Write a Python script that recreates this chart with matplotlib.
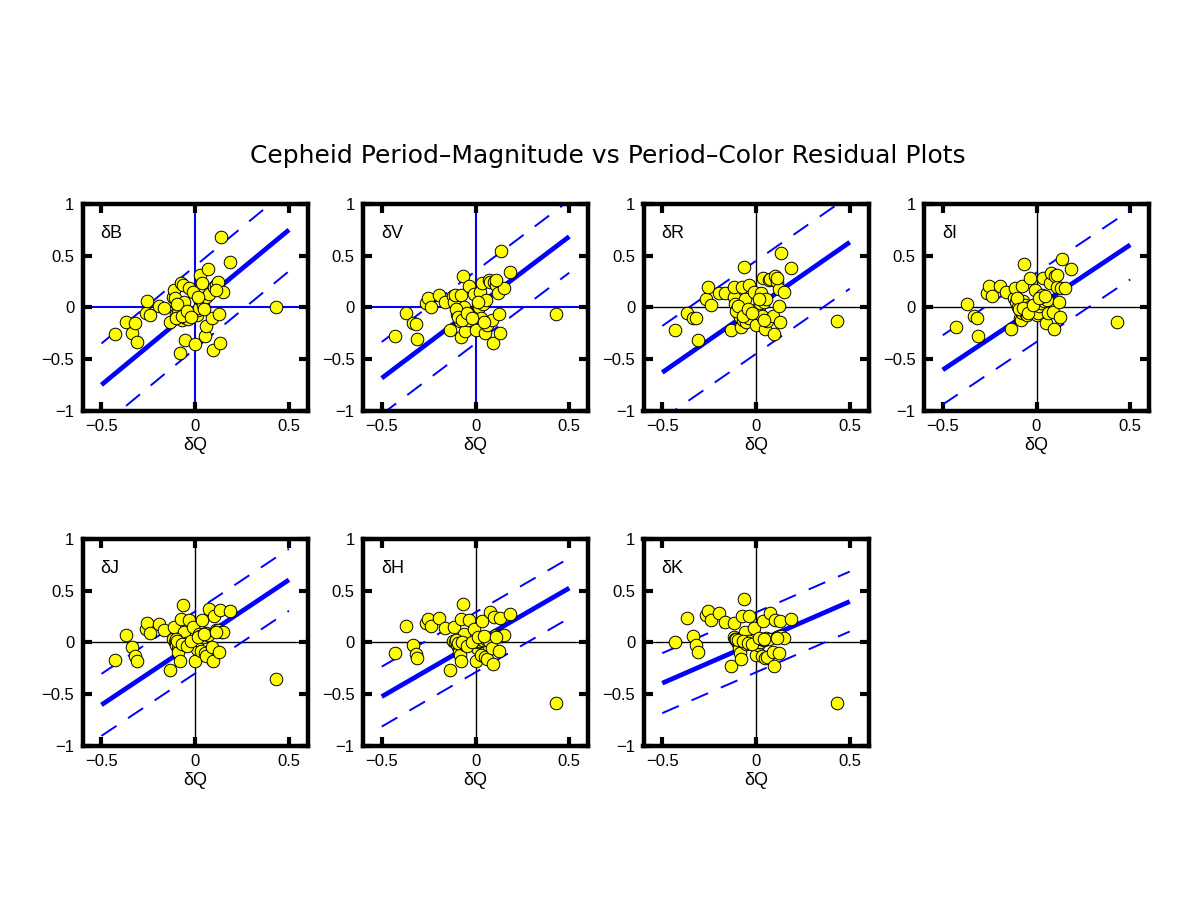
import matplotlib
matplotlib.use("Agg")
import matplotlib.pyplot as plt

plt.rcParams['font.family'] = ['Liberation Sans', 'DejaVu Sans']
plt.rcParams['lines.scale_dashes'] = False

# ---- data ----
dQ = [-0.43, -0.37, -0.335, -0.32, -0.31, -0.265, -0.255, -0.24, -0.195, -0.165,
      -0.135, -0.12, -0.115, -0.11, -0.10, -0.09, -0.09, -0.085, -0.08, -0.075,
      -0.07, -0.065, -0.06, -0.055, -0.05, -0.04, -0.035, -0.01, 0.0, 0.01,
      0.015, 0.02, 0.025, 0.03, 0.035, 0.04, 0.05, 0.055, 0.06, 0.07,
      0.075, 0.09, 0.095, 0.10, 0.11, 0.12, 0.125, 0.13, 0.135, 0.15,
      0.185, 0.43,
      -0.105, -0.095, -0.07, -0.045, -0.02, 0.015, 0.045, 0.11]

dB = [-0.258, -0.139, -0.245, -0.148, -0.332, -0.052, 0.061, -0.074, 0.013, -0.003,
      -0.139, 0.103, 0.168, 0.09, -0.06, 0.022, -0.058, -0.10, -0.445, 0.232,
      -0.12, 0.216, 0.05, -0.316, -0.10, -0.116, 0.184, 0.152, -0.358, -0.074,
      -0.03, -0.01, 0.313, 0.07, 0.232, 0.02, -0.278, 0.103, -0.181, 0.371,
      0.13, -0.107, -0.413, 0.2, 0.22, 0.248, -0.068, -0.343, 0.684, 0.145,
      0.436, 0.0,
      -0.10, 0.03, -0.08, -0.04, -0.09, 0.10, -0.02, 0.17]

dV = [-0.277, -0.052, -0.15, -0.16, -0.31, 0.039, 0.094, 0.006, 0.119, 0.055,
      -0.219, 0.11, 0.055, 0.12, -0.06, -0.03, -0.10, -0.13, -0.284, 0.12,
      -0.07, 0.303, 0.0, -0.226, -0.11, -0.12, 0.206, 0.13, -0.219, -0.05,
      0.013, 0.0, 0.152, -0.106, 0.239, 0.03, -0.252, 0.071, -0.171, 0.265,
      0.25, -0.123, -0.348, 0.25, 0.22, 0.135, -0.065, -0.245, 0.548, 0.184,
      0.345, -0.065,
      -0.02, -0.09, -0.12, -0.05, -0.10, 0.05, -0.14, 0.26]

dR = [-0.219, -0.052, -0.106, -0.10, -0.316, 0.077, 0.194, 0.023, 0.135, 0.135,
      -0.219, 0.103, 0.194, 0.03, -0.02, 0.006, -0.06, -0.09, -0.187, 0.2,
      -0.12, 0.387, 0.08, -0.14, -0.05, -0.10, 0.216, 0.15, -0.171, -0.05,
      0.0, 0.039, 0.135, -0.084, 0.281, 0.05, -0.213, 0.077, -0.129, 0.265,
      0.27, -0.084, -0.258, 0.303, 0.248, 0.174, 0.013, -0.139, 0.523, 0.152,
      0.377, -0.129,
      -0.04, 0.01, -0.08, -0.02, -0.05, 0.08, -0.12, 0.28]

dI = [-0.187, 0.032, -0.084, -0.106, -0.274, 0.142, 0.206, 0.11, 0.21, 0.145,
      -0.213, 0.087, 0.184, 0.05, 0.0, -0.03, -0.10, -0.123, -0.05, 0.206,
      0.06, 0.419, 0.02, -0.06, -0.074, 0.0, 0.281, 0.168, -0.074, -0.05,
      0.01, 0.103, 0.039, 0.12, 0.281, 0.06, -0.148, 0.07, -0.05, 0.232,
      0.329, -0.042, -0.213, 0.303, 0.2, 0.055, -0.097, 0.19, 0.465, 0.19,
      0.368, -0.139,
      0.09, -0.02, -0.01, -0.05, 0.02, 0.09, 0.11, 0.31]

dJ = [-0.171, 0.074, -0.048, -0.13, -0.177, 0.129, 0.187, 0.09, 0.177, 0.123,
      -0.265, 0.032, 0.145, 0.0, -0.03, -0.06, -0.09, 0.02, -0.177, 0.226,
      0.0, 0.365, 0.103, -0.03, -0.006, -0.02, 0.219, 0.145, -0.177, -0.06,
      0.02, 0.081, 0.06, -0.08, 0.216, 0.05, -0.106, 0.09, -0.129, 0.071,
      0.323, -0.048, -0.177, 0.252, 0.12, 0.123, -0.09, 0.316, 0.10, 0.103,
      0.30, -0.355,
      0.03, 0.01, -0.02, -0.04, 0.01, 0.05, 0.08, 0.10]

dH = [-0.103, 0.155, -0.026, -0.113, -0.155, 0.187, 0.226, 0.155, 0.232, 0.139,
      -0.265, 0.016, 0.145, 0.0, -0.03, -0.06, -0.097, -0.12, -0.177, 0.226,
      0.03, 0.371, 0.081, -0.03, -0.016, -0.02, 0.219, 0.129, -0.177, -0.05,
      0.0, 0.016, 0.03, -0.119, 0.21, 0.02, -0.145, 0.03, -0.16, 0.016,
      0.297, -0.058, -0.21, 0.242, 0.07, 0.065, -0.081, 0.232, 0.06, 0.071,
      0.274, -0.59,
      0.02, -0.01, 0.0, -0.04, 0.0, 0.05, 0.06, 0.05]

dK = [0.006, 0.232, 0.058, -0.026, -0.097, 0.265, 0.306, 0.219, 0.284, 0.194,
      -0.232, 0.048, 0.187, 0.03, 0.0, -0.03, -0.058, -0.10, -0.161, 0.252,
      0.05, 0.419, 0.097, -0.02, 0.0, 0.01, 0.258, 0.135, -0.123, -0.03,
      0.0, 0.0, 0.03, -0.129, 0.21, 0.02, -0.155, 0.04, -0.14, 0.032,
      0.284, -0.09, -0.226, 0.219, 0.05, 0.065, -0.103, 0.21, 0.06, 0.039,
      0.226, -0.587,
      0.03, 0.02, 0.01, -0.01, -0.02, 0.04, 0.03, 0.04]

bands = ['B', 'V', 'R', 'I', 'J', 'H', 'K']
residuals = [dB, dV, dR, dI, dJ, dH, dK]
slopes = [1.50, 1.37, 1.26, 1.21, 1.21, 1.05, 0.79]
widths = [0.40, 0.35, 0.45, 0.335, 0.30, 0.29, 0.29]
fit_x = [-0.5, 0.5]
xticks = [-0.5, 0, 0.5]
xtick_labels = ['\u22120.5', '0', '0.5']
yticks = [-1, -0.5, 0, 0.5, 1]
ytick_labels = ['\u22121', '\u22120.5', '0', '0.5', '1']
title = 'Cepheid Period\u2013Magnitude vs Period\u2013Color Residual Plots'

# ---- layout ----
W, H = 1177, 909
fig = plt.figure(figsize=(W / 100, H / 100), dpi=100)
lefts_px = [82.7, 363.0, 643.5, 924.0]
row_bottom_px = [410.7, 745.7]
aw, ah = 225.0, 206.7

BLUE = '#0000ff'
for i, (band, res, m, w) in enumerate(zip(bands, residuals, slopes, widths)):
    r, c = divmod(i, 4)
    ax = fig.add_axes([lefts_px[c] / W, 1 - row_bottom_px[r] / H, aw / W, ah / H])
    ax.set_xlim(-0.6, 0.6)
    ax.set_ylim(-1, 1)
    zc = BLUE if i < 2 else 'black'
    zlw = 1.5 if i < 2 else 1.0
    ax.axhline(0, color=zc, lw=zlw, zorder=1)
    ax.axvline(0, color=zc, lw=zlw, zorder=1)
    yfit = [m * x for x in fit_x]
    ax.plot(fit_x, yfit, color=BLUE, lw=3.4, solid_capstyle='butt', zorder=2)
    ax.plot(fit_x, [y + w for y in yfit], color=BLUE, lw=1.4,
            linestyle=(0, (13, 10)), zorder=2)
    ax.plot(fit_x, [y - w for y in yfit], color=BLUE, lw=1.4,
            linestyle=(0, (13, 10)), zorder=2)
    ax.scatter(dQ, res, s=82, facecolor='#ffff00', edgecolor='black',
               linewidths=0.7, zorder=3)
    ax.set_xticks(xticks)
    ax.set_xticklabels(xtick_labels)
    ax.set_yticks(yticks)
    ax.set_yticklabels(ytick_labels)
    ax.tick_params(direction='in', length=6.5, width=3, top=True, right=True,
                   labelsize=12, pad=6)
    for sp in ax.spines.values():
        sp.set_linewidth(3.2)
    ax.set_xlabel('\u03b4Q', fontsize=13, labelpad=2)
    ax.text(0.08, 0.855, '\u03b4' + band, transform=ax.transAxes, fontsize=13,
            ha='left', va='center')

fig.text(608 / W, 1 - 156 / H, title, ha='center', va='center', fontsize=18,
         family=['DejaVu Sans'])

fig.savefig('out.png', dpi=100)
